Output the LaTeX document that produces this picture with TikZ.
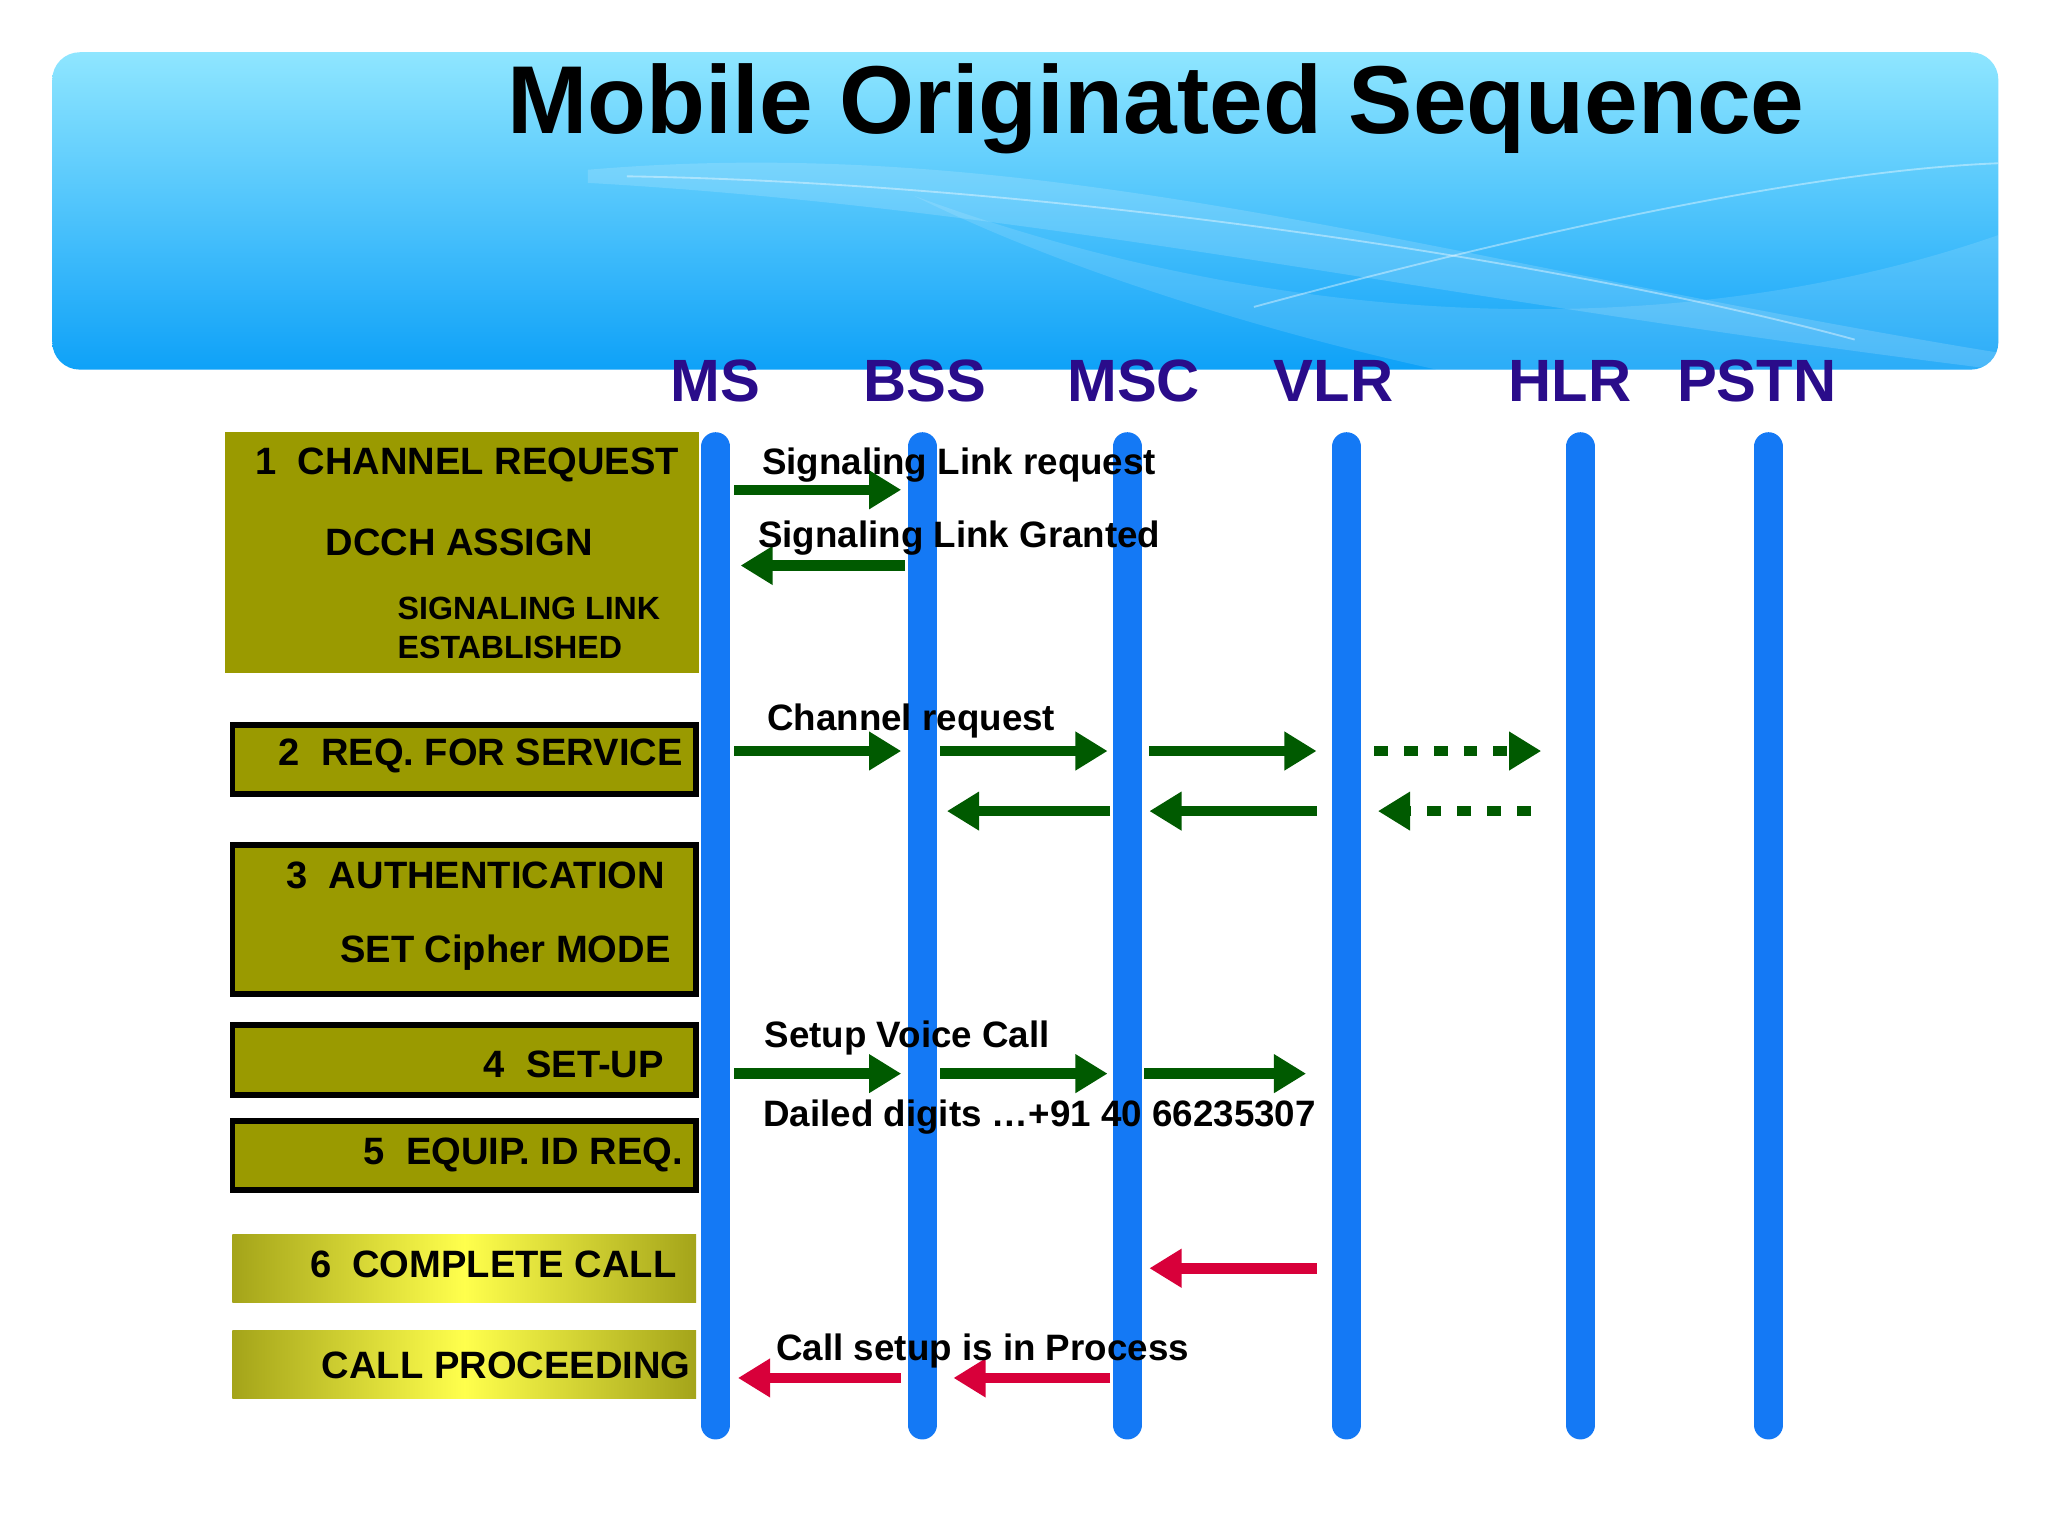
\documentclass[tikz,border=0pt]{standalone}
\usepackage{fontspec}
\setmainfont{Liberation Sans}
\usetikzlibrary{arrows.meta}
\definecolor{olivebox}{HTML}{9A9A00}
\definecolor{garrow}{HTML}{005A00}
\definecolor{rarrow}{HTML}{D8003A}
\definecolor{lifeblue}{HTML}{1479F5}
\definecolor{hdr}{HTML}{2A0C8A}
\tikzset{
 life/.style={line width=6.3pt,lifeblue,line cap=round},
 garr/.style={line width=2.3pt,garrow,-{Triangle[length=7pt,width=8pt]}},
 gdot/.style={garr,dash pattern=on 3pt off 3.5pt},
 rarr/.style={line width=2.3pt,rarrow,-{Triangle[length=7pt,width=8pt]}},
 hdrt/.style={font=\bfseries\fontsize{13}{13}\selectfont,text=hdr},
 boxt/.style={font=\bfseries\fontsize{8.3}{9}\selectfont,anchor=west},
 lab/.style={font=\bfseries\fontsize{8}{9}\selectfont,anchor=west},
 obox/.style={fill=olivebox,draw=black,line width=1.3pt},
 ybox/.style={left color=olivebox!90,right color=olivebox!90,middle color=yellow!70!white},
}
\begin{document}
\begin{tikzpicture}[x={(0.01cm,0)},y={(0,-0.01cm)}]
\useasboundingbox (0,0) rectangle (1568,1176);
\fill[white] (0,0) rectangle (1568,1176);
% banner
\shade[top color=cyan!30!blue!20!white!70!cyan,bottom color=lifeblue!70!cyan,rounded corners=6pt] (40,40) rectangle (1530,283);
\begin{scope}
\clip[rounded corners=6pt] (40,40) rectangle (1530,283);
\fill[white,opacity=0.15] (450,130) .. controls (800,100) and (1100,200) .. (1530,270) -- (1530,283) .. controls (1100,230) and (800,160) .. (450,140) -- cycle;
\draw[white,opacity=0.4] (960,235) .. controls (1200,170) and (1400,130) .. (1530,125);
\draw[white,opacity=0.4] (480,135) .. controls (800,140) and (1200,200) .. (1420,260);
\fill[white,opacity=0.12] (700,150) .. controls (1000,260) and (1300,260) .. (1530,180) -- (1530,283) -- (1100,283) .. controls (950,250) and (800,200) .. cycle;
\end{scope}
\node[font=\bfseries\fontsize{21}{21}\selectfont] (title) at (885,83) {Mobile Originated Sequence};
% headers
\node[hdrt] (hms) at (548,292) {MS};
\node[hdrt] (hbss) at (708,292) {BSS};
\node[hdrt] (hmsc) at (868,292) {MSC};
\node[hdrt] (hvlr) at (1021,292) {VLR};
\node[hdrt] (hhlr) at (1202,292) {HLR};
\node[hdrt] (hpstn) at (1345,292) {PSTN};
% lifelines
\foreach \n/\x in {ms/548,bss/706,msc/863,vlr/1031,hlr/1210,pstn/1354}{
  \coordinate (\n t) at (\x,342); \coordinate (\n b) at (\x,1091);
  \draw[life] (\n t) -- (\n b);}
% left boxes
\fill[olivebox] (172,331) rectangle (535,515);
\node[boxt] (b1a) at (183,356) {1\ \ CHANNEL REQUEST};
\node[boxt] (b1b) at (237,415) {DCCH ASSIGN};
\node[boxt,font=\bfseries\fontsize{7}{8.5}\selectfont,align=left] (b1c) at (292,481) {SIGNALING LINK\\ESTABLISHED};
\draw[obox] (178,555) rectangle (533,608);
\node[boxt] (b2) at (201,579) {2\ \ REQ. FOR SERVICE};
\draw[obox] (178,647) rectangle (533,761);
\node[boxt] (b3a) at (207,670) {3\ \ AUTHENTICATION};
\node[boxt] (b3b) at (248,729) {SET Cipher MODE};
\draw[obox] (178,785) rectangle (533,838);
\node[boxt] (b4) at (358,815) {4\ \ SET-UP};
\draw[obox] (178,858) rectangle (533,911);
\node[boxt] (b5) at (266,884) {5\ \ EQUIP. ID REQ.};
\shade[ybox] (178,945) rectangle (533,997);
\node[boxt] (b6) at (225,968) {6\ \ COMPLETE CALL};
\shade[ybox] (178,1019) rectangle (533,1071);
\node[boxt] (b7) at (234,1045) {CALL PROCEEDING};
% arrows
\foreach \n/\a/\b/\y/\s in {a1/562/690/375/garr, a2/693/567/433/garr,
 a3/562/690/575/garr, a4/720/848/575/garr, a5/880/1008/575/garr, a6/1052/1180/575/gdot,
 a7/850/725/621/garr, a8/1008/880/621/garr, a9/1172/1055/621/gdot,
 a10/562/690/822/garr, a11/720/848/822/garr, a12/876/1000/822/garr,
 a13/1008/880/971/rarr, a14/690/565/1055/rarr, a15/850/730/1055/rarr}{
  \coordinate (\n s) at (\a,\y); \coordinate (\n e) at (\b,\y);
  \draw[\s] (\n s) -- (\n e);}
% labels
\node[lab] (l1) at (571,356) {Signaling Link request};
\node[lab] (l2) at (568,412) {Signaling Link Granted};
\node[lab] (l3) at (575,552) {Channel request};
\node[lab] (l4) at (573,795) {Setup Voice Call};
\node[lab] (l5) at (572,855) {Dailed digits …+91 40 66235307};
\node[lab] (l6) at (582,1034) {Call setup is in Process};
\end{tikzpicture}
\end{document}
